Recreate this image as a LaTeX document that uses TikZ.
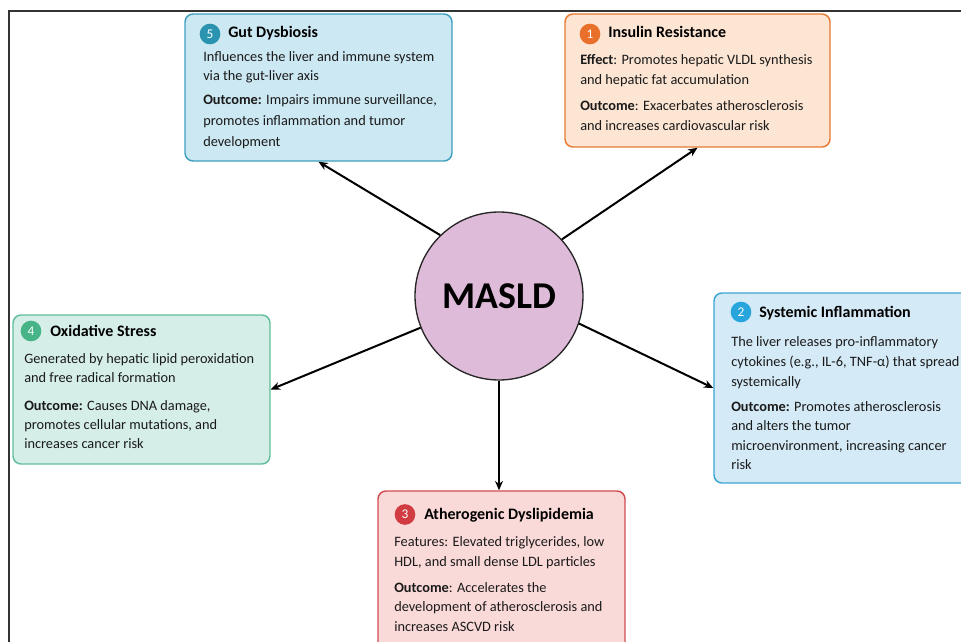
\documentclass[tikz,border=0pt]{standalone}
\usepackage{fontspec}
\setmainfont{Carlito}
\usetikzlibrary{arrows.meta,fit}
\definecolor{gutfill}{HTML}{CCE8F2}
\definecolor{gutline}{HTML}{3F9FBE}
\definecolor{gutbadge}{HTML}{2A94B0}
\definecolor{insfill}{HTML}{FDE5D3}
\definecolor{insline}{HTML}{E87832}
\definecolor{insbadge}{HTML}{E8702A}
\definecolor{sysfill}{HTML}{D4EAF6}
\definecolor{sysline}{HTML}{3CA5D2}
\definecolor{sysbadge}{HTML}{28A5DC}
\definecolor{oxifill}{HTML}{D5EEE8}
\definecolor{oxiline}{HTML}{5FBE9B}
\definecolor{oxibadge}{HTML}{46B487}
\definecolor{athfill}{HTML}{FADAD8}
\definecolor{athline}{HTML}{D24B50}
\definecolor{athbadge}{HTML}{D03C41}
\definecolor{maslfill}{HTML}{DEBBD8}
\definecolor{bodytext}{HTML}{1A1A1A}
\tikzset{
  card/.style={rounded corners=6pt, line width=1.1pt, inner sep=0pt},
  badge/.style={circle, inner sep=0pt, minimum size=15.5pt, text=white, font=\fontsize{10}{10}\selectfont},
  ttl/.style={anchor=base west, inner sep=0pt, font=\fontsize{12}{14}\selectfont\bfseries, text=black},
  bl/.style={anchor=base west, inner sep=0pt, font=\fontsize{10.75}{13}\selectfont, text=bodytext},
  link/.style={line width=1.5pt, -{Stealth[length=7pt,width=6pt]}}
}
\begin{document}
\begin{tikzpicture}[x=0.75pt,y=-0.75pt]
\useasboundingbox (0,0) rectangle (961,642);
\clip (0,0) rectangle (961,642);
\draw[line width=0.9pt, color=black!80] (9,650) -- (9,11) -- (970,11);

% boxes
\node[card, draw=gutline, fill=gutfill, fit={(185,14) (452,161)}] (gut) {};
\node[card, draw=insline, fill=insfill, fit={(565,14) (830,147)}] (ins) {};
\node[card, draw=sysline, fill=sysfill, fit={(714,293) (990,483)}] (sys) {};
\node[card, draw=oxiline, fill=oxifill, fit={(13,315) (270,464)}] (oxi) {};
\node[card, draw=athline, fill=athfill, fit={(378,491) (625,670)}] (ath) {};

% center
\node[circle, draw=black!85, line width=1pt, fill=maslfill, minimum size=126pt, inner sep=0pt,
  font=\fontsize{28.4}{30}\selectfont\bfseries] (masld) at (499,296) {MASLD};

% Gut Dysbiosis
\node[badge, fill=gutbadge] (b5) at (210,34) {5};
\node[ttl] (t5) at (228,38) {Gut Dysbiosis};
\node[bl] (g1) at (203,61.7) {Influences the liver and immune system};
\node[bl] (g2) at (203,81) {via the gut-liver axis};
\node[bl] (g3) at (203,104.3) {\textbf{Outcome:} Impairs immune surveillance,};
\node[bl] (g4) at (203,125.5) {promotes inflammation and tumor};
\node[bl] (g5) at (203,146.5) {development};

% Insulin Resistance
\node[badge, fill=insbadge] (b1) at (590,34) {1};
\node[ttl] (t1) at (608,38) {Insulin Resistance};
\node[bl] (i1) at (580,65) {\textbf{Effect}: Promotes hepatic VLDL synthesis};
\node[bl] (i2) at (580,84.5) {and hepatic fat accumulation};
\node[bl] (i3) at (580,110.7) {\textbf{Outcome}: Exacerbates atherosclerosis};
\node[bl] (i4) at (580,130.7) {and increases cardiovascular risk};

% Systemic Inflammation
\node[badge, fill=sysbadge] (b2) at (741,312) {2};
\node[ttl] (t2) at (759,317) {Systemic Inflammation};
\node[bl] (s1) at (731,346) {The liver releases pro-inflammatory};
\node[bl] (s2) at (731,366) {cytokines (e.g., IL-6, TNF-α) that spread};
\node[bl] (s3) at (731,386) {systemically};
\node[bl] (s4) at (731,411) {\textbf{Outcome:} Promotes atherosclerosis};
\node[bl] (s5) at (731,430.5) {and alters the tumor};
\node[bl] (s6) at (731,450) {microenvironment, increasing cancer};
\node[bl] (s7) at (731,469.5) {risk};

% Oxidative Stress
\node[badge, fill=oxibadge] (b4) at (31,331) {4};
\node[ttl] (t4) at (50,336) {Oxidative Stress};
\node[bl] (o1) at (24,363.3) {Generated by hepatic lipid peroxidation};
\node[bl] (o2) at (24,382.7) {and free radical formation};
\node[bl] (o3) at (24,410) {\textbf{Outcome:} Causes DNA damage,};
\node[bl] (o4) at (24,429) {promotes cellular mutations, and};
\node[bl] (o5) at (24,448.3) {increases cancer risk};

% Atherogenic Dyslipidemia
\node[badge, fill=athbadge] (b3) at (405,514.5) {3};
\node[ttl] (t3) at (424,519.3) {Atherogenic Dyslipidemia};
\node[bl] (a1) at (394,546.7) {Features: Elevated triglycerides, low};
\node[bl] (a2) at (394,566) {HDL, and small dense LDL particles};
\node[bl] (a3) at (394,592.3) {\textbf{Outcome}: Accelerates the};
\node[bl] (a4) at (394,611.7) {development of atherosclerosis and};
\node[bl] (a5) at (394,631.7) {increases ASCVD risk};

% connectors
\draw[link] (masld.134) -- (gut.south);
\draw[link] (masld.42) -- (ins.south);
\draw[link] (masld.-19.7) -- (sys.west);
\draw[link] (masld.202) -- (oxi.east);
\draw[link] (masld.south) -- (masld.south |- ath.north);
\end{tikzpicture}
\end{document}
